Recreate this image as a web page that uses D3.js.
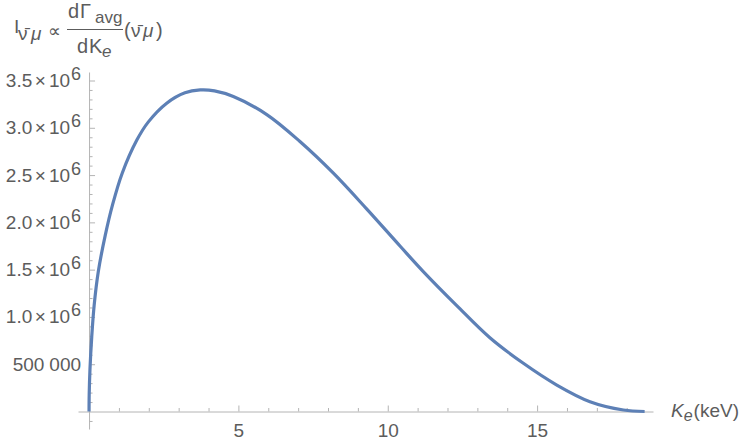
<!DOCTYPE html>
<html><head><meta charset="utf-8">
<script src="https://cdn.jsdelivr.net/npm/d3@7"></script>
<style>
html,body{margin:0;padding:0;background:#fff;}
svg{display:block;font-family:"Liberation Sans",Arial,sans-serif;}
</style></head>
<body><svg id="c" width="750" height="445"></svg>
<script>
// Data (K_e in keV, intensity)
const energyKeV = [0,0.005,0.03,0.09,0.17,0.31,0.54,0.79,1.11,1.6,1.98,2.6,3.21,3.72,4.2,4.83,5.95,7.06,8.18,9.3,10.41,11.19,12.31,13.42,14.54,15.66,16.77,17.89,18.6];
const intensity = [0,0.18e6,0.44e6,0.79e6,1.12e6,1.48e6,1.86e6,2.19e6,2.52e6,2.87e6,3.06e6,3.26e6,3.37e6,3.40e6,3.39e6,3.33e6,3.14e6,2.855e6,2.52e6,2.14e6,1.75e6,1.48e6,1.12e6,0.78e6,0.51e6,0.28e6,0.104e6,0.016e6,0];
const xMajorTicks = [5,10,15];
const xMinorTicks = [1,2,3,4,6,7,8,9,11,12,13,14,16,17,18];
const yMajorTicks = [0.5e6,1.0e6,1.5e6,2.0e6,2.5e6,3.0e6,3.5e6];
const yMajorLabels = ["500 000","1.0","1.5","2.0","2.5","3.0","3.5"];
const yMinorTicks = [];
for (let i = -1; i <= 35; i++) { if (i % 5 !== 0) yMinorTicks.push(i * 1e5); }

const svg = d3.select("#c");
const axisColor = "#b4b4b4", textColor = "#5c5c5c", lineColor = "#5d80b6";

const x = d3.scaleLinear().domain([-0.37, 18.88]).range([78, 653]);
const y = d3.scaleLinear().domain([-0.185e6, 3.59e6]).range([429, 72]);

const x0 = x(0), y0 = y(0);

// x axis
const gx = svg.append("g").attr("transform", `translate(0,${y0})`);
gx.call(d3.axisBottom(x).tickValues(xMajorTicks).tickSizeInner(-6).tickSizeOuter(0).tickPadding(12).tickFormat(d3.format("d")));
gx.append("g").call(d3.axisBottom(x).tickValues(xMinorTicks).tickSizeInner(-3.5).tickSizeOuter(0).tickFormat(""));
gx.selectAll("path.domain").attr("stroke", axisColor);
gx.selectAll(".tick line").attr("stroke", axisColor);
gx.selectAll("g.tick text").attr("fill", textColor).style("font-size", "19px").attr("font-family", "Liberation Sans, Arial, sans-serif");
gx.selectAll("g > g > path.domain").remove();

// y axis
const gy = svg.append("g").attr("transform", `translate(${x0},0)`);
gy.call(d3.axisLeft(y).tickValues(yMajorTicks).tickSizeInner(-6).tickSizeOuter(0).tickFormat(""));
gy.append("g").call(d3.axisLeft(y).tickValues(yMinorTicks).tickSizeInner(-3.5).tickSizeOuter(0).tickFormat(""));
gy.selectAll("path.domain").attr("stroke", axisColor);
gy.selectAll(".tick line").attr("stroke", axisColor);
gy.selectAll("g > g > path.domain").remove();

// y tick labels
const labG = svg.append("g").attr("fill", textColor).style("font-size", "19px");
yMajorTicks.forEach((v, i) => {
  const t = labG.append("text").attr("x", x0 - 8).attr("y", y(v) + 6.5).attr("text-anchor", "end");
  if (i === 0) {
    t.append("tspan").text("500");
    t.append("tspan").attr("dx", 5).text("000");
  } else {
    t.append("tspan").text(yMajorLabels[i]);
    t.append("tspan").attr("dx", 2.5).style("font-size", "19px").text("×");
    t.append("tspan").attr("dx", 3).text("10");
    t.append("tspan").attr("dx", 1).attr("dy", -7).style("font-size", "18px").text("6");
  }
});

// curve
const pts = energyKeV.map((e, i) => [e, intensity[i]]);
svg.append("path").datum(pts)
  .attr("fill", "none").attr("stroke", lineColor).attr("stroke-width", 3.2)
  .attr("stroke-linejoin", "round").attr("stroke-linecap", "butt")
  .attr("d", d3.line().x(d => x(d[0])).y(d => y(d[1])).curve(d3.curveCatmullRom.alpha(0.5)));

// x axis label
const xl = svg.append("text").attr("x", 671).attr("y", y0 + 5).attr("fill", textColor).style("font-size", "19px");
xl.append("tspan").attr("font-style", "italic").text("K");
xl.append("tspan").attr("font-style", "italic").attr("dy", 4).style("font-size", "16px").text("e");
xl.append("tspan").attr("dy", -4).attr("dx", 1).text("(keV)");

// y axis label
const yl = svg.append("g").attr("fill", textColor).style("font-size", "19px");
const t1 = yl.append("text").attr("x", 14).attr("y", 33);
t1.append("tspan").text("I");
t1.append("tspan").attr("x", 18).attr("dy", 7).style("font-size", "19px").text("ν\u0304");
t1.append("tspan").attr("x", 31).attr("font-style", "italic").style("font-size", "19px").text("μ");
yl.append("text").attr("x", 48).attr("y", 37).style("font-size", "18px").text("∝");
const num = yl.append("text").attr("y", 18).style("font-size", "20px");
num.append("tspan").attr("x", 68).text("d");
num.append("tspan").attr("x", 80).text("Γ");
num.append("tspan").attr("x", 95).attr("dy", 5).style("font-size", "17px").text("avg");
yl.append("line").attr("x1", 67).attr("x2", 123).attr("y1", 29.5).attr("y2", 29.5).attr("stroke", textColor).attr("stroke-width", 1.1);
const den = yl.append("text").attr("y", 53).style("font-size", "20px");
den.append("tspan").attr("x", 77).text("d");
den.append("tspan").attr("x", 89).text("K");
den.append("tspan").attr("x", 102).attr("dy", 4).attr("font-style", "italic").style("font-size", "17px").text("e");
const par = yl.append("text").attr("y", 37).style("font-size", "20px");
par.append("tspan").attr("x", 124).text("(");
par.append("tspan").attr("x", 131).style("font-size", "19px").text("ν\u0304");
par.append("tspan").attr("x", 143).attr("font-style", "italic").style("font-size", "19px").text("μ");
par.append("tspan").attr("x", 156).text(")");
</script></body></html>
